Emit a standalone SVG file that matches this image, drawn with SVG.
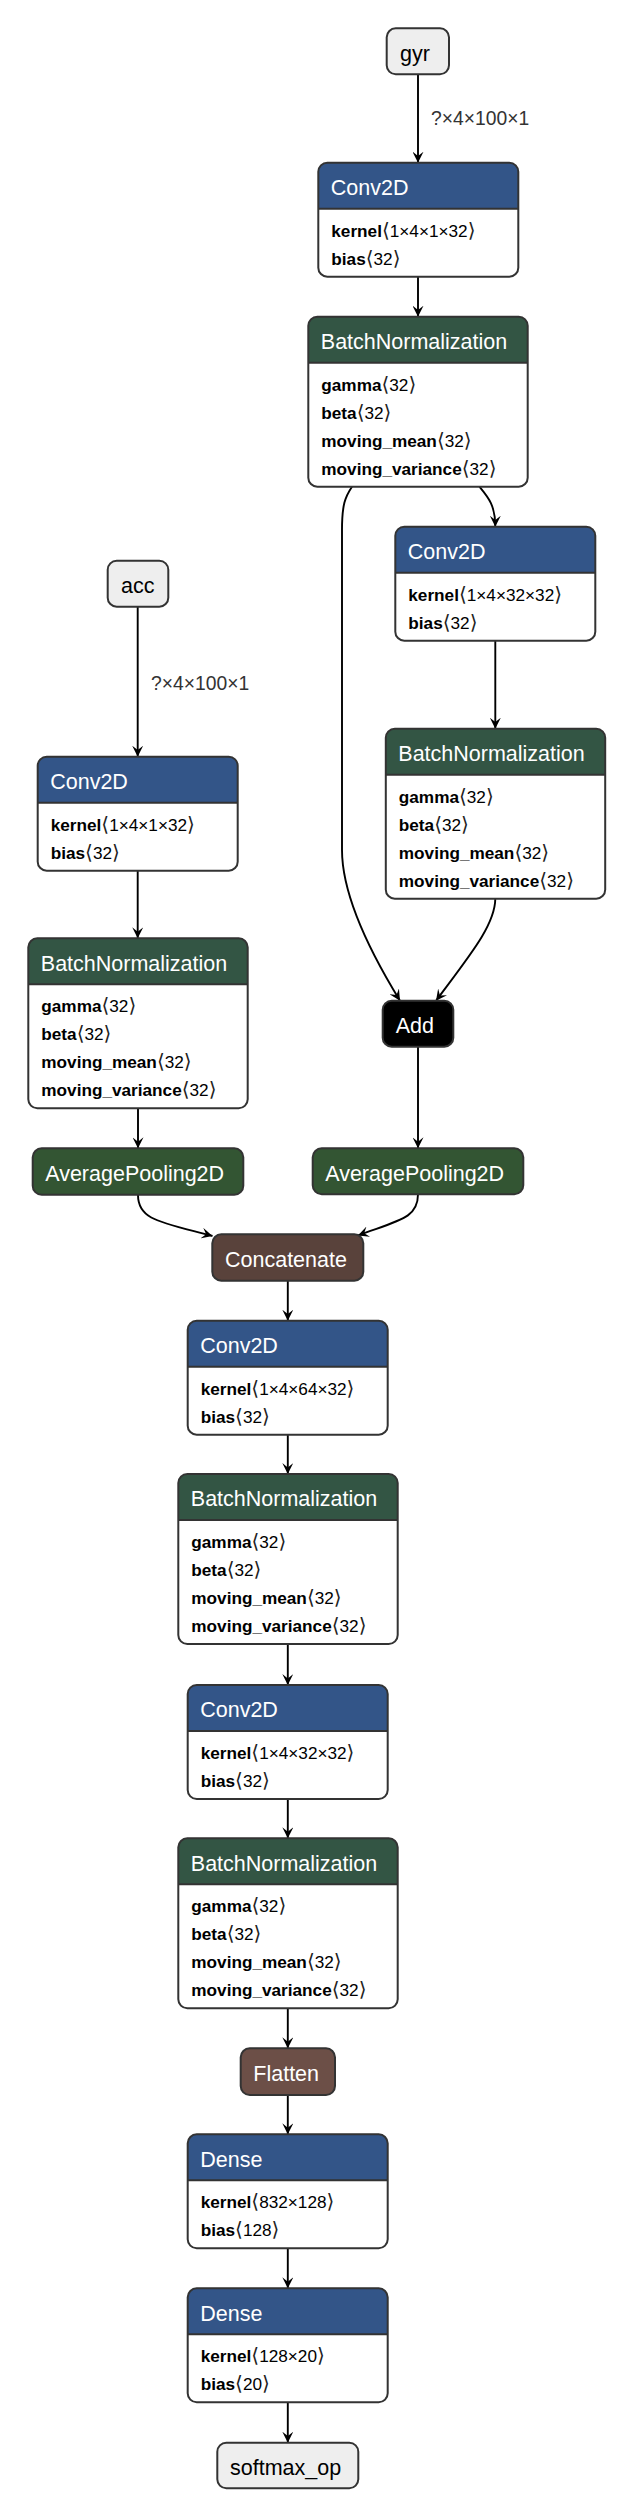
<svg xmlns="http://www.w3.org/2000/svg" xmlns:xlink="http://www.w3.org/1999/xlink" width="634" height="2518" viewBox="0 0 634 2518">
<style>
text{font-family:"Liberation Sans","DejaVu Sans",sans-serif}
.t{font-size:21.5px;fill:#fff}
.ti{font-size:21.5px;fill:#000}
.a{font-size:17.2px;fill:#000}
.k{font-weight:bold}
.br{font-family:"DejaVu Sans",sans-serif;font-size:20px;fill:#222}
.body{fill:#fff}
.border{fill:none;stroke:#333;stroke-width:2}
.sep{stroke:#333;stroke-width:2}
.e{fill:none;stroke:#000;stroke-width:1.9;marker-end:url(#arr)}
.lbl{font-size:19.3px;fill:#333}
.conv{fill:#335588}.bn{fill:#335544}.pool{fill:#335533}.cat{fill:#59423b}.flat{fill:#6c4f47}.add{fill:#000}.io{fill:#eee}
</style>
<defs>
<marker id="arr" viewBox="0 0 10 10" refX="10" refY="5" markerUnits="userSpaceOnUse" markerWidth="11" markerHeight="11" orient="auto"><path d="M0,0 L10,5 L0,10 L4,5 z" fill="#000"/></marker>
<path id="h200" d="M0,46 V9 A9,9 0 0 1 9,0 H191 A9,9 0 0 1 200,9 V46 Z"/>
<path id="h219" d="M0,46 V9 A9,9 0 0 1 9,0 H210.4 A9,9 0 0 1 219.4,9 V46 Z"/>
</defs>

<g id="edges">
<path class="e" d="M418,74.3 V162.7"/>
<path class="e" d="M418,276.7 V316.7"/>
<path class="e" d="M479.5,486.7 C488,497 495.3,505 495.3,526.7"/>
<path class="e" d="M352,486.7 C345,497 342,505 342,530 L342,850 C342,900 375,960 400,1000.7"/>
<path class="e" d="M495.3,640.7 V728.7"/>
<path class="e" d="M495.3,898.7 C495,925 470,955 436,1000.7"/>
<path class="e" d="M137.7,606.7 V756.7"/>
<path class="e" d="M137.7,870.7 V938.3"/>
<path class="e" d="M138,1108.3 V1148.3"/>
<path class="e" d="M418,1046.7 V1148.3"/>
<path class="e" d="M138,1195 C138,1220 160,1222 212.5,1236"/>
<path class="e" d="M418,1194.3 C418,1218 400,1220 358,1235.5"/>
<path class="e" d="M287.8,1280.7 V1320.7"/>
<path class="e" d="M287.8,1434.7 V1474"/>
<path class="e" d="M287.8,1644 V1685"/>
<path class="e" d="M287.8,1799 V1838.3"/>
<path class="e" d="M287.8,2008.3 V2048.3"/>
<path class="e" d="M287.8,2095 V2134.3"/>
<path class="e" d="M287.8,2248.3 V2288.3"/>
<path class="e" d="M287.8,2402.3 V2442.7"/>
<text class="lbl" x="431" y="125">?×4×100×1</text>
<text class="lbl" x="151" y="690">?×4×100×1</text>
</g>

<g id="gyr" transform="translate(386.7,28.3)">
<rect class="io" width="62.3" height="46" rx="9"/><rect class="border" width="62.3" height="46" rx="9"/>
<text class="ti" x="13.3" y="32.3">gyr</text>
</g>

<g id="conv_gyr" transform="translate(318.3,162.7)">
<rect class="body" width="200" height="114" rx="9"/><use href="#h200" class="conv"/><line class="sep" x1="0" y1="46" x2="200" y2="46"/><rect class="border" width="200" height="114" rx="9"/>
<text class="t" x="12.5" y="32.3">Conv2D</text>
<text class="a" x="13" y="74"><tspan class="k">kernel</tspan><tspan class="br">⟨</tspan>1×4×1×32<tspan class="br">⟩</tspan></text>
<text class="a" x="13" y="102"><tspan class="k">bias</tspan><tspan class="br">⟨</tspan>32<tspan class="br">⟩</tspan></text>
</g>

<g id="bn_gyr" transform="translate(308.3,316.7)">
<rect class="body" width="219.4" height="170" rx="9"/><use href="#h219" class="bn"/><line class="sep" x1="0" y1="46" x2="219.4" y2="46"/><rect class="border" width="219.4" height="170" rx="9"/>
<text class="t" x="12.5" y="32.3">BatchNormalization</text>
<text class="a" x="13" y="74"><tspan class="k">gamma</tspan><tspan class="br">⟨</tspan>32<tspan class="br">⟩</tspan></text>
<text class="a" x="13" y="102"><tspan class="k">beta</tspan><tspan class="br">⟨</tspan>32<tspan class="br">⟩</tspan></text>
<text class="a" x="13" y="130"><tspan class="k">moving_mean</tspan><tspan class="br">⟨</tspan>32<tspan class="br">⟩</tspan></text>
<text class="a" x="13" y="158"><tspan class="k">moving_variance</tspan><tspan class="br">⟨</tspan>32<tspan class="br">⟩</tspan></text>
</g>

<g id="conv_gyr2" transform="translate(395.3,526.7)">
<rect class="body" width="200" height="114" rx="9"/><use href="#h200" class="conv"/><line class="sep" x1="0" y1="46" x2="200" y2="46"/><rect class="border" width="200" height="114" rx="9"/>
<text class="t" x="12.5" y="32.3">Conv2D</text>
<text class="a" x="13" y="74"><tspan class="k">kernel</tspan><tspan class="br">⟨</tspan>1×4×32×32<tspan class="br">⟩</tspan></text>
<text class="a" x="13" y="102"><tspan class="k">bias</tspan><tspan class="br">⟨</tspan>32<tspan class="br">⟩</tspan></text>
</g>

<g id="bn_gyr2" transform="translate(385.8,728.7)">
<rect class="body" width="219.4" height="170" rx="9"/><use href="#h219" class="bn"/><line class="sep" x1="0" y1="46" x2="219.4" y2="46"/><rect class="border" width="219.4" height="170" rx="9"/>
<text class="t" x="12.5" y="32.3">BatchNormalization</text>
<text class="a" x="13" y="74"><tspan class="k">gamma</tspan><tspan class="br">⟨</tspan>32<tspan class="br">⟩</tspan></text>
<text class="a" x="13" y="102"><tspan class="k">beta</tspan><tspan class="br">⟨</tspan>32<tspan class="br">⟩</tspan></text>
<text class="a" x="13" y="130"><tspan class="k">moving_mean</tspan><tspan class="br">⟨</tspan>32<tspan class="br">⟩</tspan></text>
<text class="a" x="13" y="158"><tspan class="k">moving_variance</tspan><tspan class="br">⟨</tspan>32<tspan class="br">⟩</tspan></text>
</g>

<g id="acc" transform="translate(107.7,560.7)">
<rect class="io" width="60.6" height="46" rx="9"/><rect class="border" width="60.6" height="46" rx="9"/>
<text class="ti" x="13.3" y="32.3">acc</text>
</g>

<g id="conv_acc" transform="translate(37.7,756.7)">
<rect class="body" width="200" height="114" rx="9"/><use href="#h200" class="conv"/><line class="sep" x1="0" y1="46" x2="200" y2="46"/><rect class="border" width="200" height="114" rx="9"/>
<text class="t" x="12.5" y="32.3">Conv2D</text>
<text class="a" x="13" y="74"><tspan class="k">kernel</tspan><tspan class="br">⟨</tspan>1×4×1×32<tspan class="br">⟩</tspan></text>
<text class="a" x="13" y="102"><tspan class="k">bias</tspan><tspan class="br">⟨</tspan>32<tspan class="br">⟩</tspan></text>
</g>

<g id="bn_acc" transform="translate(28.3,938.3)">
<rect class="body" width="219.4" height="170" rx="9"/><use href="#h219" class="bn"/><line class="sep" x1="0" y1="46" x2="219.4" y2="46"/><rect class="border" width="219.4" height="170" rx="9"/>
<text class="t" x="12.5" y="32.3">BatchNormalization</text>
<text class="a" x="13" y="74"><tspan class="k">gamma</tspan><tspan class="br">⟨</tspan>32<tspan class="br">⟩</tspan></text>
<text class="a" x="13" y="102"><tspan class="k">beta</tspan><tspan class="br">⟨</tspan>32<tspan class="br">⟩</tspan></text>
<text class="a" x="13" y="130"><tspan class="k">moving_mean</tspan><tspan class="br">⟨</tspan>32<tspan class="br">⟩</tspan></text>
<text class="a" x="13" y="158"><tspan class="k">moving_variance</tspan><tspan class="br">⟨</tspan>32<tspan class="br">⟩</tspan></text>
</g>

<g id="add" transform="translate(382.7,1000.7)">
<rect class="add" width="70.6" height="46" rx="9"/><rect class="border" width="70.6" height="46" rx="9"/>
<text class="t" x="13" y="32.3">Add</text>
</g>

<g id="avgpool_acc" transform="translate(32.7,1148.3)">
<rect class="pool" width="210.6" height="46.5" rx="9"/><rect class="border" width="210.6" height="46.5" rx="9"/>
<text class="t" x="12.5" y="32.3">AveragePooling2D</text>
</g>

<g id="avgpool_gyr" transform="translate(312.7,1148.3)">
<rect class="pool" width="210.6" height="46" rx="9"/><rect class="border" width="210.6" height="46" rx="9"/>
<text class="t" x="12.5" y="32.3">AveragePooling2D</text>
</g>

<g id="concatenate" transform="translate(212.3,1234.3)">
<rect class="cat" width="151" height="46.4" rx="9"/><rect class="border" width="151" height="46.4" rx="9"/>
<text class="t" x="12.7" y="32.3">Concatenate</text>
</g>

<g id="conv3" transform="translate(187.7,1320.7)">
<rect class="body" width="200" height="114" rx="9"/><use href="#h200" class="conv"/><line class="sep" x1="0" y1="46" x2="200" y2="46"/><rect class="border" width="200" height="114" rx="9"/>
<text class="t" x="12.5" y="32.3">Conv2D</text>
<text class="a" x="13" y="74"><tspan class="k">kernel</tspan><tspan class="br">⟨</tspan>1×4×64×32<tspan class="br">⟩</tspan></text>
<text class="a" x="13" y="102"><tspan class="k">bias</tspan><tspan class="br">⟨</tspan>32<tspan class="br">⟩</tspan></text>
</g>

<g id="bn3" transform="translate(178.3,1474)">
<rect class="body" width="219.4" height="170" rx="9"/><use href="#h219" class="bn"/><line class="sep" x1="0" y1="46" x2="219.4" y2="46"/><rect class="border" width="219.4" height="170" rx="9"/>
<text class="t" x="12.5" y="32.3">BatchNormalization</text>
<text class="a" x="13" y="74"><tspan class="k">gamma</tspan><tspan class="br">⟨</tspan>32<tspan class="br">⟩</tspan></text>
<text class="a" x="13" y="102"><tspan class="k">beta</tspan><tspan class="br">⟨</tspan>32<tspan class="br">⟩</tspan></text>
<text class="a" x="13" y="130"><tspan class="k">moving_mean</tspan><tspan class="br">⟨</tspan>32<tspan class="br">⟩</tspan></text>
<text class="a" x="13" y="158"><tspan class="k">moving_variance</tspan><tspan class="br">⟨</tspan>32<tspan class="br">⟩</tspan></text>
</g>

<g id="conv4" transform="translate(187.7,1685)">
<rect class="body" width="200" height="114" rx="9"/><use href="#h200" class="conv"/><line class="sep" x1="0" y1="46" x2="200" y2="46"/><rect class="border" width="200" height="114" rx="9"/>
<text class="t" x="12.5" y="32.3">Conv2D</text>
<text class="a" x="13" y="74"><tspan class="k">kernel</tspan><tspan class="br">⟨</tspan>1×4×32×32<tspan class="br">⟩</tspan></text>
<text class="a" x="13" y="102"><tspan class="k">bias</tspan><tspan class="br">⟨</tspan>32<tspan class="br">⟩</tspan></text>
</g>

<g id="bn4" transform="translate(178.3,1838.3)">
<rect class="body" width="219.4" height="170" rx="9"/><use href="#h219" class="bn"/><line class="sep" x1="0" y1="46" x2="219.4" y2="46"/><rect class="border" width="219.4" height="170" rx="9"/>
<text class="t" x="12.5" y="32.3">BatchNormalization</text>
<text class="a" x="13" y="74"><tspan class="k">gamma</tspan><tspan class="br">⟨</tspan>32<tspan class="br">⟩</tspan></text>
<text class="a" x="13" y="102"><tspan class="k">beta</tspan><tspan class="br">⟨</tspan>32<tspan class="br">⟩</tspan></text>
<text class="a" x="13" y="130"><tspan class="k">moving_mean</tspan><tspan class="br">⟨</tspan>32<tspan class="br">⟩</tspan></text>
<text class="a" x="13" y="158"><tspan class="k">moving_variance</tspan><tspan class="br">⟨</tspan>32<tspan class="br">⟩</tspan></text>
</g>

<g id="flatten" transform="translate(240.7,2048.3)">
<rect class="flat" width="94.3" height="46.7" rx="9"/><rect class="border" width="94.3" height="46.7" rx="9"/>
<text class="t" x="12.6" y="32.3">Flatten</text>
</g>

<g id="dense1" transform="translate(187.7,2134.3)">
<rect class="body" width="200" height="114" rx="9"/><use href="#h200" class="conv"/><line class="sep" x1="0" y1="46" x2="200" y2="46"/><rect class="border" width="200" height="114" rx="9"/>
<text class="t" x="12.5" y="32.3">Dense</text>
<text class="a" x="13" y="74"><tspan class="k">kernel</tspan><tspan class="br">⟨</tspan>832×128<tspan class="br">⟩</tspan></text>
<text class="a" x="13" y="102"><tspan class="k">bias</tspan><tspan class="br">⟨</tspan>128<tspan class="br">⟩</tspan></text>
</g>

<g id="dense2" transform="translate(187.7,2288.3)">
<rect class="body" width="200" height="114" rx="9"/><use href="#h200" class="conv"/><line class="sep" x1="0" y1="46" x2="200" y2="46"/><rect class="border" width="200" height="114" rx="9"/>
<text class="t" x="12.5" y="32.3">Dense</text>
<text class="a" x="13" y="74"><tspan class="k">kernel</tspan><tspan class="br">⟨</tspan>128×20<tspan class="br">⟩</tspan></text>
<text class="a" x="13" y="102"><tspan class="k">bias</tspan><tspan class="br">⟨</tspan>20<tspan class="br">⟩</tspan></text>
</g>

<g id="softmax_op" transform="translate(217.3,2442.7)">
<rect class="io" width="141" height="45.6" rx="9"/><rect class="border" width="141" height="45.6" rx="9"/>
<text class="ti" x="12.7" y="32.3">softmax_op</text>
</g>
</svg>
